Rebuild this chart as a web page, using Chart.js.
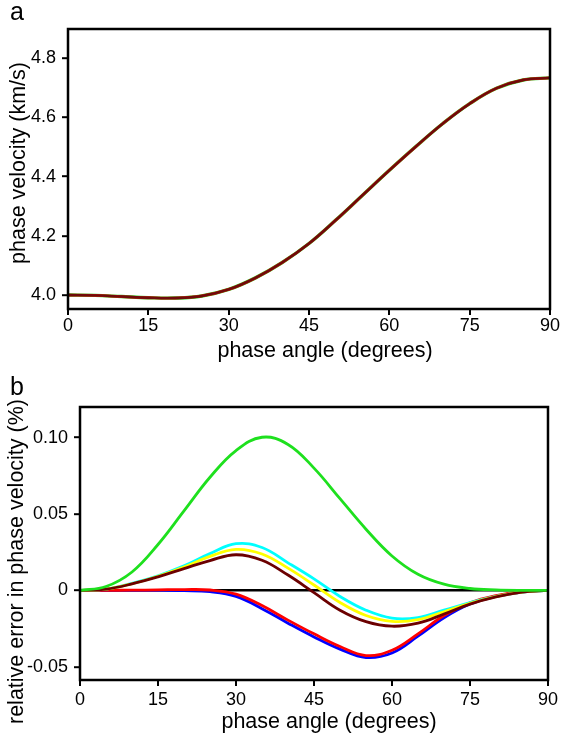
<!DOCTYPE html>
<html>
<head>
<meta charset="utf-8">
<script src="https://cdn.jsdelivr.net/npm/chart.js@4.4.1/dist/chart.umd.min.js"></script>
<style>
  body { margin: 0; background: #fff; }
  #cajaA { position: absolute; left: 0; top: 0; width: 561px; height: 370px; }
  #cajaB { position: absolute; left: 0; top: 370px; width: 561px; height: 371px; }
</style>
</head>
<body>
<div id="cajaA"><canvas id="panelA" width="561" height="370"></canvas></div>
<div id="cajaB"><canvas id="panelB" width="561" height="371"></canvas></div>
<script>
// angulos de fase (grados)
const angulos = [0, 5, 10, 15, 20, 25, 30, 35, 40, 45, 50, 55, 60, 65, 70, 75, 80, 85, 90]

// panel a: velocidad de fase (km/s)
const velocidad = [4.000, 3.999, 3.995, 3.991, 3.990, 3.997, 4.019, 4.058, 4.110, 4.174,
                   4.253, 4.337, 4.421, 4.502, 4.579, 4.646, 4.698, 4.726, 4.733]

// panel b: error relativo (%)
const errVerde    = [0, 0.0025, 0.012, 0.030, 0.052, 0.074, 0.0915, 0.1002, 0.0955, 0.080,
                     0.060, 0.040, 0.0225, 0.0105, 0.004, 0.0012, 0.0003, 0, 0]
const errCian     = [0, 0.0008, 0.0045, 0.0095, 0.016, 0.024, 0.0305, 0.028, 0.018, 0.0075,
                     -0.004, -0.013, -0.0182, -0.0178, -0.013, -0.008, -0.004, -0.0012, 0]
const errAmarillo = [0, 0.0008, 0.0043, 0.0092, 0.0152, 0.0222, 0.0268, 0.0238, 0.0145, 0.0035,
                     -0.008, -0.0165, -0.0203, -0.0192, -0.014, -0.0085, -0.0042, -0.0012, 0]
const errMarron   = [0, 0.0008, 0.0042, 0.0088, 0.0142, 0.0195, 0.0233, 0.0197, 0.0100, -0.0015,
                     -0.013, -0.0205, -0.0235, -0.0215, -0.0155, -0.009, -0.0043, -0.0012, 0]
const errRojo     = [0, 0, 0.0001, 0.0003, 0.0005, 0.0002, -0.0025, -0.010, -0.0195, -0.0285,
                     -0.0368, -0.0427, -0.0392, -0.0285, -0.0165, -0.0082, -0.0035, -0.0009, 0]
const errAzul     = [0, 0, 0, 0, -0.0002, -0.0009, -0.004, -0.012, -0.0215, -0.0305,
                     -0.0385, -0.0440, -0.041, -0.030, -0.018, -0.009, -0.004, -0.0011, 0]

// marcas de los ejes
const ticksX = [0, 15, 30, 45, 60, 75, 90]
const ticksYA = [4.0, 4.2, 4.4, 4.6, 4.8]
const etiquetasYA = ['4.0', '4.2', '4.4', '4.6', '4.8']
const ticksYB = [-0.05, 0, 0.05, 0.10]
const etiquetasYB = ['-0.05', '0', '0.05', '0.10']

const fuente = "'Liberation Sans', Arial, sans-serif"

function puntos(serie) {
    return angulos.map((a, i) => ({x: a, y: serie[i]}))
}

function linea(serie, color, ancho) {
    return {
        data: puntos(serie),
        borderColor: color,
        borderWidth: ancho,
        pointRadius: 0,
        tension: 0.4,
        fill: false
    }
}

// marco negro alrededor del area de la grafica
const marco = {
    id: 'marco',
    afterDatasetsDraw(chart) {
        const {ctx, chartArea} = chart
        ctx.save()
        ctx.strokeStyle = '#000'
        ctx.lineWidth = 2.5
        ctx.strokeRect(chartArea.left, chartArea.top, chartArea.right - chartArea.left, chartArea.bottom - chartArea.top)
        ctx.restore()
    }
}

// letras de panel y titulos de ejes
function textos(lista) {
    return {
        id: 'textos',
        afterDraw(chart) {
            const ctx = chart.ctx
            lista.forEach(t => {
                ctx.save()
                ctx.translate(t.x, t.y)
                ctx.rotate(t.rot || 0)
                ctx.font = t.size + 'px ' + fuente
                ctx.fillStyle = '#000'
                ctx.textAlign = t.align || 'center'
                ctx.textBaseline = 'alphabetic'
                ctx.fillText(t.texto, 0, 0)
                ctx.restore()
            })
        }
    }
}

function ejeX(pad) {
    return {
        type: 'linear',
        min: 0,
        max: 90,
        afterBuildTicks: s => { s.ticks = ticksX.map(v => ({value: v})) },
        afterFit: s => { s.height = 61 },
        ticks: { color: '#000', font: {family: fuente, size: 18}, padding: pad, maxRotation: 0,
                 callback: v => String(v) },
        grid: { drawOnChartArea: false, tickLength: 6, lineWidth: 2, color: '#000', tickColor: '#000', tickWidth: 2 },
        border: { display: false }
    }
}

function ejeY(min, max, ticks, etiquetas, ancho, lineaCero) {
    return {
        type: 'linear',
        min: min,
        max: max,
        afterBuildTicks: s => { s.ticks = ticks.map(v => ({value: v})) },
        afterFit: s => { s.width = ancho },
        ticks: { color: '#000', font: {family: fuente, size: 18}, padding: 6,
                 callback: v => etiquetas[ticks.indexOf(v)] },
        grid: { drawOnChartArea: lineaCero, tickLength: 6, lineWidth: 2.4,
                color: c => (c.tick && c.tick.value === 0) ? '#000' : 'rgba(0,0,0,0)',
                tickColor: '#000', tickWidth: 2 },
        border: { display: false }
    }
}

// panel a
new Chart(document.getElementById('panelA').getContext('2d'), {
    type: 'line',
    data: {
        datasets: [
            linea(velocidad, '#6e0a0a', 2.4),
            linea(velocidad, '#e01010', 2.8),
            linea(velocidad, '#20d020', 3.4)
        ]
    },
    options: {
        responsive: false,
        animation: false,
        layout: { padding: {left: 0, right: 11, top: 29, bottom: 0} },
        scales: {
            x: ejeX(0),
            y: ejeY(3.953, 4.898, ticksYA, etiquetasYA, 68, false)
        },
        plugins: { legend: { display: false }, tooltip: { enabled: false } }
    },
    plugins: [marco, textos([
        {texto: 'a', x: 10, y: 20, size: 25, align: 'left'},
        {texto: 'phase angle (degrees)', x: 325, y: 357, size: 21.5},
        {texto: 'phase velocity (km/s)', x: 25, y: 163, size: 21.5, rot: -Math.PI / 2}
    ])]
});

// panel b
new Chart(document.getElementById('panelB').getContext('2d'), {
    type: 'line',
    data: {
        datasets: [
            linea(errVerde, '#1ee01e', 2.8),
            linea(errMarron, '#6b0000', 2.8),
            linea(errAmarillo, '#ffff00', 2.8),
            linea(errCian, '#00ffff', 2.8),
            linea(errRojo, '#ff0000', 2.8),
            linea(errAzul, '#0000ff', 2.8)
        ]
    },
    options: {
        responsive: false,
        animation: false,
        layout: { padding: {left: 0, right: 11, top: 37, bottom: 0} },
        scales: {
            x: ejeX(3),
            y: ejeY(-0.0587, 0.12, ticksYB, etiquetasYB, 80, true)
        },
        plugins: { legend: { display: false }, tooltip: { enabled: false } }
    },
    plugins: [marco, textos([
        {texto: 'b', x: 10, y: 25, size: 25, align: 'left'},
        {texto: 'phase angle (degrees)', x: 329, y: 358, size: 21.5},
        {texto: 'relative error in phase velocity (%)', x: 22.5, y: 191.5, size: 21.5, rot: -Math.PI / 2}
    ])]
});
</script>
</body>
</html>
